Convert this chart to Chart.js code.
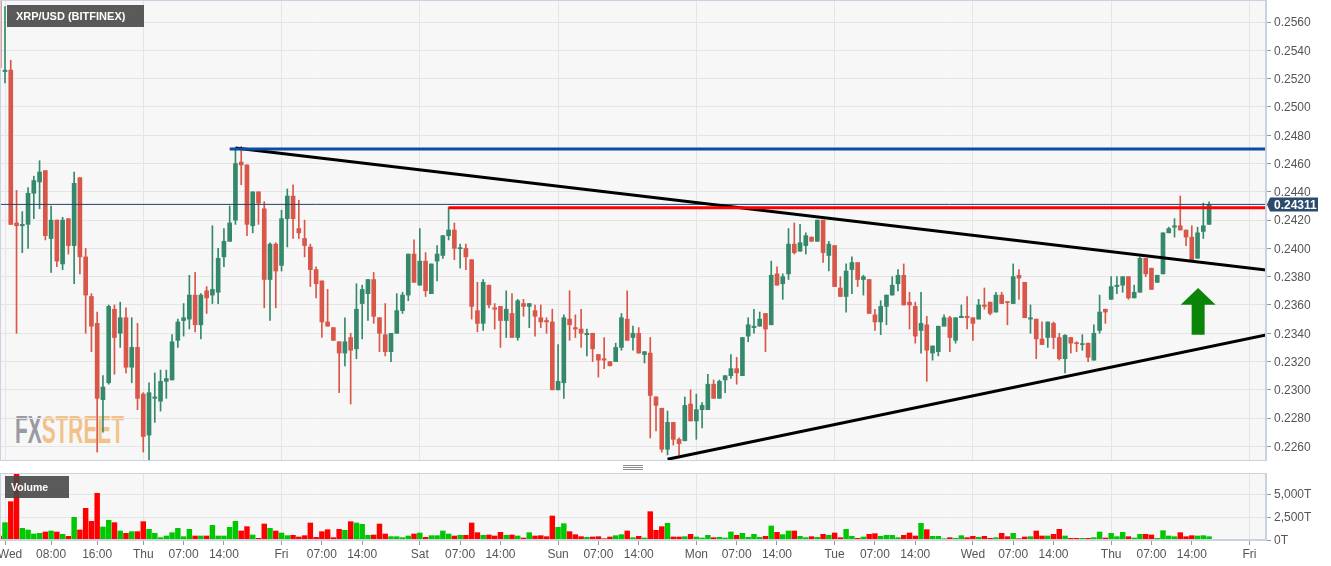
<!DOCTYPE html>
<html><head><meta charset="utf-8">
<script src="https://cdn.jsdelivr.net/npm/chart.js@4.4.0/dist/chart.umd.min.js"></script>
<style>
html,body{margin:0;padding:0;background:#fff;width:1331px;height:566px;overflow:hidden;font-family:"Liberation Sans",Arial,sans-serif;}
#wrap{position:relative;width:1331px;height:566px;}
.bg{position:absolute;background:#f7f7f7;}
#mainBg{left:0;top:0;width:1266px;height:461px;}
#volBg{left:0;top:473px;width:1266px;height:67px;}
#wm{position:absolute;left:15px;top:411px;font-family:"Liberation Sans Narrow","Liberation Sans",Arial,sans-serif;font-weight:bold;font-size:38px;line-height:38px;white-space:nowrap;transform-origin:left top;}
#wm .fx{color:#9a9aa2;} #wm .st{color:#f2c18a;}
canvas{position:absolute;left:0;}
#c1{top:0;} #c2{top:462px;}
.tag{position:absolute;background:rgba(72,72,72,0.9);color:#fff;font-weight:bold;white-space:nowrap;}
#title{left:7px;top:5px;width:128px;height:22px;line-height:22px;padding-left:9px;font-size:11px;}
#vtag{left:5px;top:476px;width:58px;height:22px;line-height:22px;padding-left:6px;font-size:10.5px;}
#grip{position:absolute;left:623px;top:465px;width:20px;height:1px;background:#8a8a8a;box-shadow:0 2px 0 #8a8a8a,0 4px 0 #8a8a8a;}
</style></head>
<body><div id="wrap">
<div class="bg" id="mainBg"></div>
<div class="bg" id="volBg"></div>
<div id="wm"><span class="fx">FX</span><span class="st">STREET</span></div>
<canvas id="c1" width="1331" height="461"></canvas>
<canvas id="c2" width="1331" height="104"></canvas>
<div class="tag" id="title">XRP/USD (BITFINEX)</div>
<div class="tag" id="vtag">Volume</div>
<div id="grip"></div>
</div>
<script>
// ---- data: hourly candles, first candle = Tue 23:00 (hour -1), hour 0 = Wed 00:00 ----
const firstHour = -1;
const opens = [
0.2585,0.2525,0.2526,0.2418,0.2416,0.2417,0.2439,0.2447,0.2455,0.2407,
0.2420,0.2389,0.2421,0.2402,0.2450,0.2394,0.2366,0.2347,0.2293,0.2305,
0.2357,0.2340,0.2351,0.2316,0.2330,0.2297,0.2268,0.2294,0.2292,0.2306,
0.2307,0.2335,0.2349,0.2350,0.2367,0.2346,0.2370,0.2367,0.2369,0.2394,
0.2405,0.2420,0.2461,0.2459,0.2416,0.2440,0.2428,0.2378,0.2403,0.2388,
0.2421,0.2437,0.2414,0.2407,0.2401,0.2385,0.2377,0.2348,0.2344,0.2334,
0.2326,0.2337,0.2329,0.2361,0.2368,0.2378,0.2351,0.2339,0.2327,0.2340,
0.2356,0.2367,0.2396,0.2374,0.2391,0.2368,0.2391,0.2395,0.2409,0.2413,
0.23998,0.2400,0.2392,0.2356,0.2347,0.2374,0.2358,0.2359,0.2349,0.2354,
0.2337,0.2361,0.2359,0.2356,0.2351,0.2349,0.2348,0.2300,0.2305,0.2350,
0.2344,0.2343,0.2339,0.2340,0.2325,0.2322,0.2320,0.2320,0.2330,0.2350,
0.2337,0.2340,0.2325,0.2326,0.2295,0.2287,0.2258,0.2277,0.2265,0.2264,
0.2290,0.2278,0.2286,0.2286,0.2304,0.2294,0.2307,0.2310,0.2315,0.2310,
0.2338,0.2344,0.2345,0.2354,0.2346,0.2382,0.2375,0.2382,0.2403,0.2398,
0.2402,0.2408,0.2405,0.2420,0.2395,0.2402,0.2372,0.2366,0.2385,0.2390,
0.2378,0.2378,0.2353,0.2348,0.2359,0.2367,0.2375,0.2381,0.2362,0.2359,
0.2342,0.2346,0.2326,0.2327,0.2345,0.2351,0.2335,0.2351,0.2352,0.2351,
0.2350,0.2360,0.2362,0.2355,0.2367,0.23624,0.2361,0.2381,0.2376,0.2350,
0.2350,0.2336,0.2337,0.2347,0.2337,0.2322,0.2337,0.23333,0.2332,0.2333,
0.2321,0.2342,0.2357,0.2364,0.2373,0.2374,0.2380,0.2365,0.2369,0.2393,
0.2386,0.2376,0.2382,0.2411,0.2415,0.2416,0.2413,0.2408,0.2393,0.2412,0.2417];
const highs = [
0.2592,0.2571,0.2533,0.2441,0.2426,0.2443,0.2451,0.2462,0.2455,0.2430,
0.2420,0.2422,0.2421,0.2454,0.2450,0.2400,0.2368,0.2355,0.2310,0.2360,
0.2360,0.2362,0.2358,0.2351,0.2347,0.2298,0.2305,0.2312,0.2314,0.2314,
0.2339,0.2350,0.2361,0.2381,0.2383,0.2368,0.2373,0.2416,0.2400,0.2414,
0.2430,0.2471,0.2472,0.2459,0.2440,0.2440,0.2433,0.2404,0.2404,0.2427,
0.2442,0.2445,0.2434,0.2420,0.2403,0.2387,0.2377,0.2371,0.2344,0.2334,
0.2351,0.2340,0.2375,0.2374,0.2378,0.2383,0.2351,0.2361,0.2340,0.2368,
0.2369,0.2396,0.2406,0.2414,0.2397,0.2389,0.2402,0.2409,0.2429,0.2418,
0.2403,0.2403,0.2392,0.2376,0.2378,0.2374,0.2361,0.2359,0.2370,0.2368,
0.2364,0.2364,0.2361,0.2360,0.2360,0.2351,0.2357,0.2332,0.2353,0.2370,
0.2353,0.2357,0.2343,0.2340,0.2325,0.2337,0.2320,0.2333,0.2354,0.2370,
0.2345,0.2344,0.2327,0.2337,0.2295,0.2287,0.2285,0.2277,0.2266,0.2295,
0.2300,0.2297,0.2291,0.2311,0.2307,0.2307,0.2310,0.2325,0.2323,0.2337,
0.2351,0.2357,0.2355,0.2354,0.2391,0.2387,0.2382,0.2414,0.2418,0.2417,
0.2411,0.2408,0.2420,0.2420,0.2405,0.2402,0.2380,0.2389,0.2394,0.2390,
0.2381,0.2378,0.2357,0.2363,0.2367,0.2380,0.2385,0.2389,0.2369,0.2362,
0.2369,0.2352,0.2331,0.2345,0.2353,0.2352,0.2351,0.2360,0.2366,0.2351,
0.2364,0.2372,0.2362,0.2369,0.2369,0.23624,0.2389,0.2385,0.2376,0.2360,
0.2350,0.2348,0.2348,0.2348,0.2340,0.2339,0.2337,0.2334,0.2339,0.2333,
0.2346,0.2367,0.2357,0.2380,0.2380,0.2380,0.2380,0.2374,0.2394,0.2393,
0.2386,0.2381,0.2411,0.2415,0.2421,0.2437,0.2413,0.2416,0.2415,0.2432,0.2433];
const lows = [
0.2517,0.2517,0.2417,0.2340,0.2397,0.2400,0.2421,0.2428,0.2406,0.2383,
0.2387,0.2385,0.2396,0.2375,0.2382,0.2340,0.2327,0.2256,0.2270,0.2304,
0.2311,0.2330,0.2312,0.2305,0.2286,0.2256,0.2249,0.2277,0.2285,0.2294,
0.2307,0.2330,0.2338,0.2343,0.2341,0.2336,0.2354,0.2361,0.2361,0.2387,
0.2405,0.2417,0.2445,0.2409,0.2411,0.2417,0.2358,0.2349,0.2358,0.2384,
0.2401,0.2407,0.2407,0.2394,0.2373,0.2365,0.2337,0.2345,0.2335,0.2298,
0.2317,0.2290,0.2322,0.2336,0.2349,0.2347,0.2327,0.2324,0.2320,0.2340,
0.2354,0.2363,0.2376,0.2374,0.2366,0.2368,0.2377,0.2393,0.2406,0.2392,
0.2386,0.2385,0.2350,0.2341,0.2342,0.2358,0.2343,0.2330,0.2337,0.2337,
0.2335,0.2352,0.2344,0.2338,0.2344,0.2340,0.2300,0.2300,0.2294,0.2335,
0.2337,0.2330,0.2324,0.2320,0.2309,0.2315,0.2317,0.2320,0.2328,0.2335,
0.2328,0.2326,0.2319,0.2266,0.2271,0.2256,0.2254,0.2261,0.2254,0.2264,
0.2278,0.2265,0.2273,0.2286,0.2294,0.2294,0.2298,0.2308,0.2304,0.2310,
0.2334,0.2340,0.2345,0.2327,0.2346,0.2374,0.2364,0.2378,0.2396,0.2398,
0.2396,0.2405,0.2405,0.2390,0.2384,0.2373,0.2366,0.2355,0.2368,0.2373,
0.2367,0.2354,0.2342,0.2339,0.2346,0.2367,0.2370,0.2360,0.2343,0.2333,
0.2326,0.2306,0.2321,0.2324,0.2345,0.2327,0.2333,0.2351,0.2343,0.2335,
0.2350,0.2357,0.2353,0.2355,0.2361,0.2346,0.2361,0.2364,0.2351,0.2340,
0.2322,0.2332,0.2330,0.2329,0.2321,0.2312,0.2326,0.2327,0.2328,0.2320,
0.2321,0.2340,0.2347,0.2364,0.2368,0.2369,0.2364,0.2365,0.2369,0.2380,
0.2371,0.2376,0.2382,0.2411,0.2408,0.2413,0.2402,0.2392,0.2393,0.2407,0.2417];
const closes = [
0.2528,0.2526,0.2417,0.2416,0.2417,0.2439,0.2448,0.2454,0.2409,0.2420,
0.2391,0.2420,0.2402,0.2446,0.2394,0.2367,0.2345,0.2294,0.2302,0.2359,
0.2337,0.2351,0.2316,0.2330,0.2294,0.2267,0.2298,0.2295,0.2306,0.2308,
0.2334,0.2348,0.2351,0.2367,0.2346,0.2367,0.2365,0.2371,0.2393,0.2405,
0.2418,0.2460,0.2459,0.2417,0.2440,0.2432,0.2378,0.2403,0.2384,0.2421,
0.2437,0.2421,0.2411,0.2402,0.2385,0.2375,0.2348,0.2345,0.2335,0.2326,
0.2334,0.2328,0.2357,0.2371,0.2378,0.2352,0.2340,0.2327,0.2340,0.2356,
0.2367,0.2396,0.2376,0.2391,0.2370,0.2389,0.2396,0.2409,0.2413,0.2400,
0.24002,0.2394,0.2359,0.2347,0.2376,0.2360,0.2357,0.2349,0.2357,0.2337,
0.2363,0.2359,0.2361,0.2352,0.2348,0.2348,0.2300,0.2306,0.2351,0.2346,
0.2343,0.2340,0.2340,0.2329,0.2321,0.2321,0.2317,0.2330,0.2351,0.2335,
0.2340,0.2326,0.2327,0.2296,0.2289,0.2258,0.2277,0.2265,0.2262,0.2289,
0.2278,0.2286,0.2289,0.2304,0.2294,0.2306,0.2310,0.2315,0.2312,0.2337,
0.2346,0.2345,0.2350,0.2343,0.2381,0.2374,0.2380,0.2403,0.2397,0.2404,
0.2409,0.2405,0.2420,0.2397,0.2403,0.2373,0.2366,0.2384,0.2390,0.2378,
0.2380,0.2354,0.2348,0.2359,0.2367,0.2374,0.2381,0.2360,0.2360,0.2338,
0.2347,0.2328,0.2331,0.2345,0.2351,0.2337,0.2351,0.2352,0.2351,0.2347,
0.2360,0.2359,0.2354,0.2367,0.2361,0.23617,0.2380,0.2379,0.2351,0.2351,
0.2336,0.2332,0.2348,0.2337,0.2322,0.23385,0.2333,0.23326,0.23325,0.2323,
0.2340,0.2355,0.2355,0.2373,0.2374,0.2380,0.2365,0.2369,0.2393,0.2382,
0.2371,0.2381,0.2411,0.2414,0.2416,0.2413,0.2408,0.2392,0.2411,0.2416,0.24311];
const volumes = [
435,1884,4167,7400,1268,1087,652,725,870,978,
870,616,399,2464,1087,3442,2029,5072,1413,2138,
1884,978,725,906,906,1993,1159,725,254,435,
797,1268,362,1159,435,435,435,1594,435,435,
1377,2029,978,1449,543,181,1739,1268,978,761,
471,507,326,471,1848,290,906,1123,254,1159,
1051,1993,1848,1703,507,543,1739,652,362,362,
254,435,652,761,290,471,471,978,652,435,
507,507,1848,797,507,543,435,833,507,543,
435,217,797,435,471,362,2608,1377,1775,906,
580,362,290,326,362,145,326,471,580,978,
254,399,217,3080,1051,1449,1812,326,326,362,
616,326,217,507,254,290,217,870,507,725,
290,616,290,399,1522,833,580,978,978,399,
254,362,290,616,507,761,254,1159,399,181,
326,616,688,399,507,507,254,507,761,435,
1812,1123,399,399,145,254,181,471,254,399,
290,399,181,254,725,362,725,145,326,362,
978,435,435,616,1159,435,181,181,181,181,
254,870,217,725,362,833,362,217,616,616,
543,181,1014,435,362,797,362,471,435,471,362];
const lastPrice = 0.24311;
const priceTicks = [0.2260,0.2280,0.2300,0.2320,0.2340,0.2360,0.2380,0.2400,0.2420,0.2440,0.2460,0.2480,0.2500,0.2520,0.2540,0.2560];
const volumeTicks = [0,2500,5000];
const dayHours = [0,24,48,72,96,120,144,168,192,216];
const tickHours = [0,8,16,24,31,38,48,55,62,72,79,86,96,103,110,120,127,134,144,151,158,168,175,182,192,199,206,216];
const tickLabels = ['Wed','08:00','16:00','Thu','07:00','14:00','Fri','07:00','14:00','Sat','07:00','14:00','Sun','07:00','14:00','Mon','07:00','14:00','Tue','07:00','14:00','Wed','07:00','14:00','Thu','07:00','14:00','Fri'];
// drawn analysis lines (hour, price)
const blueLevel = [[39,0.24703],[219,0.24703]];
const redLevel = [[77,0.24287],[219,0.24287]];
const downTrend = [[40,0.2471],[218.88,0.23847]];
const upTrend = [[115,0.2251],[218.88,0.23388]];
const arrowAt = {hour:207.1, tip:0.2372, neck:0.23602, base:0.2339};

// ---- view ----
const X_MIN=-0.868, X_MAX=218.88, Y_MIN=0.22497, Y_MAX=0.25756, V_MAX=7283;
Chart.defaults.font.family='"Liberation Sans", Arial, sans-serif';
Chart.defaults.font.size=12;
Chart.defaults.color='#555';

const hours = closes.map((_,k)=>firstHour+k);
const isUp = closes.map((c,k)=>c>=opens[k]);
const candleColor = isUp.map(u=>u?'#35896b':'#d95749');
const volColor = isUp.map(u=>u?'#00c800':'#ff0000');

const frame = {id:'frame', afterDraw(ch){const a=ch.chartArea,c=ch.ctx;c.save();c.strokeStyle='#cbd2df';c.lineWidth=1;c.strokeRect(a.left+0.5,a.top+0.5,a.right-a.left-1,a.bottom-a.top-1);c.restore();}};
const priceTag = {id:'priceTag', afterDraw(ch){const y=ch.scales.y.getPixelForValue(lastPrice),r=ch.chartArea.right,c=ch.ctx;c.save();c.fillStyle='#2c4a6c';c.beginPath();c.moveTo(r+1,y);c.lineTo(r+4,y-7);c.lineTo(r+52,y-7);c.lineTo(r+52,y+7);c.lineTo(r+4,y+7);c.closePath();c.fill();c.fillStyle='#fff';c.font='bold 12px "Liberation Sans", Arial';c.textBaseline='middle';c.textAlign='left';c.fillText(lastPrice.toFixed(5),r+8,y+1);c.restore();}};
const arrowPlug = {id:'arrow', afterDatasetsDraw(ch){const xs=ch.scales.x,ys=ch.scales.y,c=ch.ctx;const cx=xs.getPixelForValue(arrowAt.hour),t=ys.getPixelForValue(arrowAt.tip),n=ys.getPixelForValue(arrowAt.neck),b=ys.getPixelForValue(arrowAt.base);c.save();c.fillStyle='#0a850a';c.beginPath();c.moveTo(cx,t);c.lineTo(cx+17.5,n);c.lineTo(cx+6.5,n);c.lineTo(cx+6.5,b);c.lineTo(cx-6.5,b);c.lineTo(cx-6.5,n);c.lineTo(cx-17.5,n);c.closePath();c.fill();c.restore();}};

const seg = (pts,color,w)=>({type:'line',data:pts.map(p=>({x:p[0],y:p[1]})),borderColor:color,borderWidth:w,pointRadius:0,order:0});

new Chart(document.getElementById('c1'),{
  type:'bar',
  data:{datasets:[
    seg(blueLevel,'#0b4da2',3),
    seg(redLevel,'#ff0000',3),
    seg(downTrend,'#000000',3),
    seg(upTrend,'#000000',3),
    seg([[X_MIN,lastPrice],[X_MAX,lastPrice]],'#24406a',1),
    {type:'bar',data:hours.map((h,k)=>({x:h,y:[opens[k],closes[k]]})),backgroundColor:candleColor,barThickness:4,maxBarThickness:4,minBarLength:1,grouped:false,order:1},
    {type:'bar',data:hours.map((h,k)=>({x:h,y:[lows[k],highs[k]]})),backgroundColor:candleColor,barThickness:1,maxBarThickness:1,minBarLength:1,grouped:false,order:2}
  ]},
  options:{
    responsive:false,animation:false,events:[],
    layout:{padding:0},
    plugins:{legend:{display:false},tooltip:{enabled:false}},
    scales:{
      x:{type:'linear',min:X_MIN,max:X_MAX,offset:false,
         grid:{offset:false,color:'#e5e5e5',drawTicks:false},border:{display:false},
         ticks:{display:false},
         afterBuildTicks:s=>{s.ticks=dayHours.map(v=>({value:v}));},
         afterFit:s=>{s.height=0;s.paddingLeft=0;s.paddingRight=0;}},
      y:{position:'right',min:Y_MIN,max:Y_MAX,
         grid:{color:'#e5e5e5',tickLength:5,tickColor:'#999'},border:{color:'#cbd2df'},
         ticks:{padding:3,labelOffset:1,color:'#555',callback:v=>Number(v).toFixed(4)},
         afterBuildTicks:s=>{s.ticks=priceTicks.map(v=>({value:v}));},
         afterFit:s=>{s.width=65;s.paddingTop=0;s.paddingBottom=0;}}
    }
  },
  plugins:[arrowPlug,frame,priceTag]
});

new Chart(document.getElementById('c2'),{
  type:'bar',
  data:{datasets:[{data:hours.map((h,k)=>({x:h,y:volumes[k]})),backgroundColor:volColor,barThickness:4.8,maxBarThickness:4.8,grouped:false}]},
  options:{
    responsive:false,animation:false,events:[],
    layout:{padding:{top:11,left:0,right:0,bottom:0}},
    plugins:{legend:{display:false},tooltip:{enabled:false}},
    scales:{
      x:{type:'linear',min:X_MIN,max:X_MAX,offset:false,
         grid:{offset:false,color:c=>(c.tick&&c.tick.value%24===0)?'#e5e5e5':'rgba(0,0,0,0)',tickColor:'#999',tickLength:5},
         border:{color:'#cbd2df'},
         ticks:{autoSkip:false,maxRotation:0,minRotation:0,padding:2,color:'#555',callback:(v,i)=>i===0?'   '+tickLabels[i]:tickLabels[i]},
         afterBuildTicks:s=>{s.ticks=tickHours.map(v=>({value:v}));},
         afterFit:s=>{s.height=26;s.paddingLeft=0;s.paddingRight=0;}},
      y:{position:'right',min:0,max:V_MAX,
         grid:{color:'#e5e5e5',tickLength:5,tickColor:'#999'},border:{color:'#cbd2df'},
         ticks:{padding:3,labelOffset:1,color:'#555',callback:v=>Number(v).toLocaleString('en-US')+'T'},
         afterBuildTicks:s=>{s.ticks=volumeTicks.map(v=>({value:v}));},
         afterFit:s=>{s.width=65;s.paddingTop=0;s.paddingBottom=0;}}
    }
  },
  plugins:[frame]
});

const wm=document.getElementById('wm');
const ww=wm.getBoundingClientRect().width;
if(ww>0){wm.style.transform='scaleX('+(109/ww)+')';}
</script>
</body></html>
